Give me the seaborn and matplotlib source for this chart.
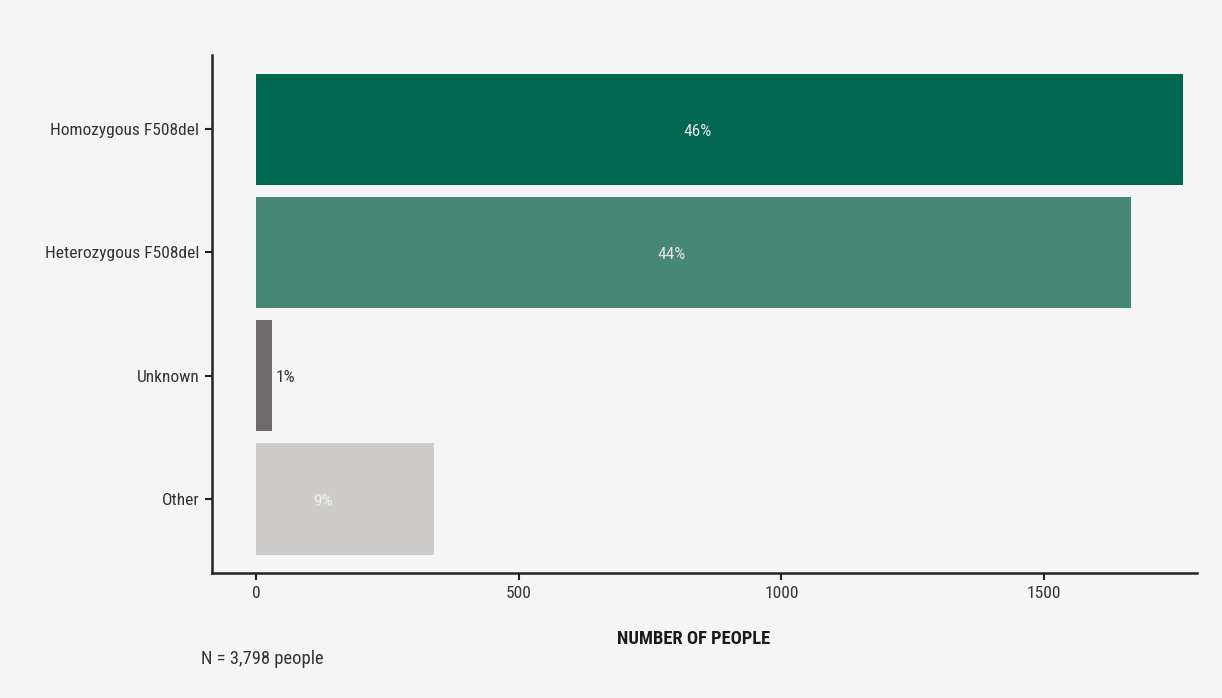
import matplotlib
matplotlib.use("Agg")
import matplotlib.pyplot as plt
from matplotlib import font_manager
import seaborn as sns
import pandas as pd

genotypes = ["Homozygous F508del", "Heterozygous F508del", "Unknown", "Other"]
counts = [1765, 1665, 30, 338]
pct_labels = ["46%", "44%", "1%", "9%"]
bar_colors = ["#006850", "#468775", "#6d6b6b", "#cdccca"]
label_colors = ["#e2e2e2", "#e2e2e2", "#333333", "#f0f0f0"]
inside = [True, True, False, True]
total_people = 3798
x_ticks = [0, 500, 1000, 1500]

sns.set_theme(style="white")

# Prefer a condensed sans face if one is installed
narrow_names = ["Liberation Sans Narrow", "Roboto Condensed", "Open Sans Condensed",
                "Noto Sans Condensed", "DejaVu Sans Condensed"]
installed = {f.name for f in font_manager.fontManager.ttflist}
family = next((n for n in narrow_names if n in installed), None)
stretch = "normal"
if family is None:
    cands = [f for f in font_manager.fontManager.ttflist
             if str(f.stretch) in ("condensed", "semi-condensed", "extra-condensed")
             and f.style == "normal"]
    if cands:
        family = cands[0].name
        stretch = str(cands[0].stretch)
condensed = family is not None
if family is None:
    family = "Liberation Sans"
plt.rcParams["font.family"] = [family, "DejaVu Sans"]
plt.rcParams["font.stretch"] = stretch

fs = 12.5 if condensed else 11.2
bg = "#f5f5f5"
fig = plt.figure(figsize=(12.22, 6.98), dpi=100, facecolor=bg)
ax = fig.add_axes([212 / 1222, 1 - 573 / 698, (1197 - 212) / 1222, (573 - 55) / 698])
ax.set_facecolor(bg)

df = pd.DataFrame({"genotype": genotypes, "count": counts})
sns.barplot(data=df, x="count", y="genotype", hue="genotype", order=genotypes,
            hue_order=genotypes, palette=bar_colors, saturation=1, width=0.9,
            legend=False, linewidth=0, ax=ax)

for i, (val, lab, col, ins) in enumerate(zip(counts, pct_labels, label_colors, inside)):
    if ins:
        ax.annotate(lab, xy=(val / 2, i), xytext=(-22, -2), textcoords="offset pixels",
                    ha="center", va="center", color=col, fontsize=fs)
    else:
        ax.annotate(lab, xy=(val, i), xytext=(4, -2), textcoords="offset pixels",
                    ha="left", va="center", color=col, fontsize=fs)

ax.set_xlim(-84, 1791)
ax.set_ylim(3.6, -0.6)
ax.set_xticks(x_ticks)
ax.set_xticklabels([str(t) for t in x_ticks])
ax.set_ylabel("")
ax.set_xlabel("NUMBER OF PEOPLE", fontsize=fs + 0.8, fontweight="bold", color="#1a1a1a")
ax.xaxis.set_label_coords(0.489, -0.11)
ax.tick_params(axis="both", which="major", length=5, width=1.5, color="#222222",
               labelsize=fs, labelcolor="#333333", pad=4, bottom=True, left=True)

for side in ["top", "right"]:
    ax.spines[side].set_visible(False)
for side in ["left", "bottom"]:
    ax.spines[side].set_color("#222222")
    ax.spines[side].set_linewidth(1.8)

fig.text(201 / 1222, 1 - 659 / 698, f"N = {total_people:,} people", ha="left",
         va="center", fontsize=fs + 0.8, color="#333333")

fig.savefig("out.png", dpi=100, facecolor=bg)
